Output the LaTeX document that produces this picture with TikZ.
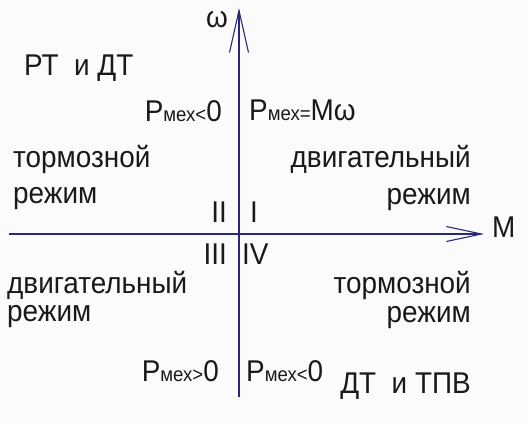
\documentclass[tikz,border=0pt]{standalone}
\usepackage{fontspec}
\setmainfont{Liberation Sans}[FakeStretch=0.93]
\usetikzlibrary{arrows.meta}
\definecolor{axiscol}{RGB}{40,40,120}
\definecolor{txtcol}{RGB}{25,25,25}
\definecolor{bgcol}{RGB}{251,251,251}
\newcommand\bigtxt{\fontsize{30}{32}\selectfont}
\newcommand\smalltxt{\fontsize{20}{21}\selectfont}
\newcommand\pmx[2]{P{\smalltxt мех#1}#2}
\tikzset{
  axis/.style={draw=axiscol, line width=1.1pt},
  lbl/.style={inner sep=0pt, text=txtcol, font=\bigtxt},
  lw/.style={lbl, anchor=base west},
  le/.style={lbl, anchor=base east},
}
\begin{document}
\begin{tikzpicture}[x=1pt,y=-1pt]
\fill[bgcol] (0,0) rectangle (528,424);
\useasboundingbox (0,0) rectangle (528,424);
% axes
\coordinate (wbot) at (239,397);
\coordinate (wtop) at (239,8);
\coordinate (mleft) at (9,234);
\coordinate (mright) at (484,234);
\draw[axis, -{Straight Barb[length=42pt,width=19pt,line width=1.1pt]}] (wbot) -- (wtop);
\draw[axis, -{Straight Barb[length=35pt,width=15pt,line width=1.1pt]}] (mleft) -- (mright);
\node[lw] (omega) at (206,27) {ω};
\node[lw] (mlab) at (492,237) {M};
% top left
\node[lw] (rtdt) at (24,75) {РТ\ \ и ДТ};
\node[le] (p2) at (222,121) {\pmx{<}{0}};
\node[lw] (torm1) at (13,167) {тормозной};
\node[lw] (rezh1) at (13,203) {режим};
% top right
\node[lw] (p1) at (249,120) {\pmx{=}{Mω}};
\node[le] (dvig1) at (471,167) {двигательный};
\node[le] (rezh2) at (471,204) {режим};
% quadrant numbers
\node[le] (q2) at (227,222) {II};
\node[lw] (q1) at (250,222) {I};
\node[le] (q3) at (227,264) {III};
\node[lw] (q4) at (242,264) {IV};
% bottom left
\node[lw] (dvig2) at (7,293) {двигательный};
\node[lw] (rezh3) at (7,321) {режим};
\node[le] (p3) at (219,381) {\pmx{>}{0}};
% bottom right
\node[le] (torm2) at (471,293) {тормозной};
\node[le] (rezh4) at (471,322) {режим};
\node[lw] (p4) at (246,381) {\pmx{<}{0}};
\node[le] (dttpv) at (471,393) {ДТ\ \ и ТПВ};
\end{tikzpicture}
\end{document}
